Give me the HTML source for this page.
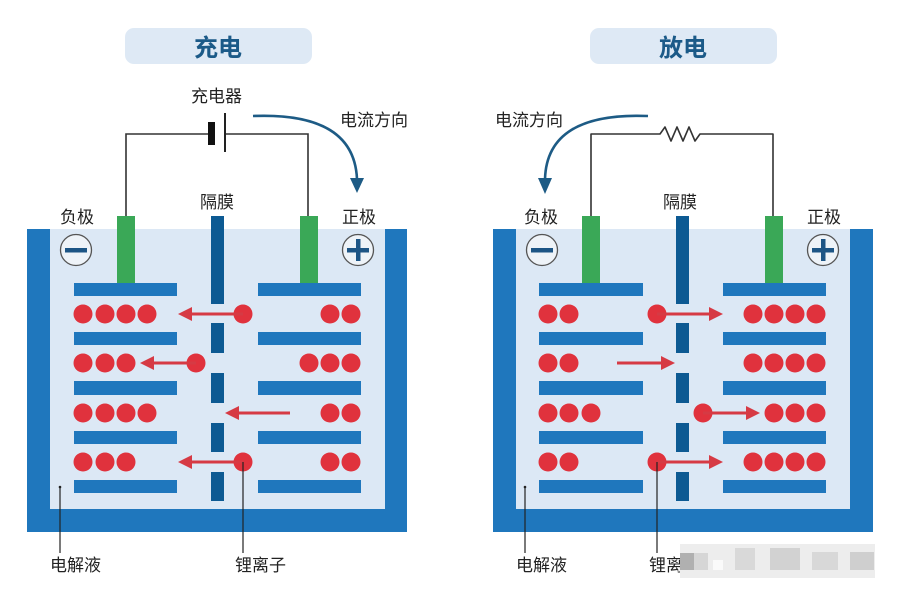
<!DOCTYPE html>
<html><head><meta charset="utf-8"><style>
html,body{margin:0;padding:0;background:#fff;}
svg{display:block;}
text{font-family:"Liberation Sans","Noto Sans CJK SC",sans-serif;fill:#222;font-size:17px;}
</style></head><body>
<svg width="900" height="599" viewBox="0 0 900 599" xmlns="http://www.w3.org/2000/svg">
<rect width="900" height="599" fill="#fff"/>
<!-- Titles -->
<rect x="125" y="28" width="187" height="36" rx="9" fill="#dee9f5"/>
<text x="218" y="56" text-anchor="middle" style="font-size:24px;font-weight:bold;fill:#1b5a88">充电</text>
<rect x="590" y="28" width="187" height="36" rx="9" fill="#dee9f5"/>
<text x="683" y="56" text-anchor="middle" style="font-size:24px;font-weight:bold;fill:#1b5a88">放电</text>

<!-- LEFT circuit -->
<text x="191" y="102">充电器</text>
<polyline points="126,216 126,134 208,134" fill="none" stroke="#333" stroke-width="1.6"/>
<polyline points="226,134 308,134 308,216" fill="none" stroke="#333" stroke-width="1.6"/>
<rect x="208" y="122" width="7" height="23" fill="#111"/>
<rect x="224" y="113" width="2" height="39" fill="#222"/>
<path d="M253,116 Q354,112 357,179" fill="none" stroke="#1d5b85" stroke-width="2.6"/>
<polygon points="350,178 364,178 357,193" fill="#1d5b85"/>
<text x="340" y="126">电流方向</text>
<text x="60" y="223">负极</text>
<text x="342" y="223">正极</text>
<text x="200" y="208">隔膜</text>

<!-- LEFT container -->
<rect x="27" y="229" width="380" height="303" fill="#1f77bd"/>
<rect x="50" y="229" width="335" height="280" fill="#dce8f5"/>
<circle cx="76" cy="250" r="15.5" fill="#eef3f8" stroke="#555" stroke-width="1.3"/>
<rect x="65" y="248" width="22" height="4.5" fill="#1d5585"/>
<circle cx="358" cy="250" r="15.5" fill="#eef3f8" stroke="#555" stroke-width="1.3"/>
<rect x="347" y="248" width="22" height="4.5" fill="#1d5585"/>
<rect x="356" y="239" width="4.5" height="22" fill="#1d5585"/>
<rect x="117" y="216" width="18" height="67" fill="#3aa857"/>
<rect x="300" y="216" width="18" height="67" fill="#3aa857"/>
<g fill="#0d5a93">
<rect x="211" y="216" width="13" height="88"/>
<rect x="211" y="323" width="13" height="30"/>
<rect x="211" y="373" width="13" height="30"/>
<rect x="211" y="423" width="13" height="29"/>
<rect x="211" y="472" width="13" height="29"/>
</g>
<g fill="#1f77bd">
<rect x="74" y="283" width="103" height="13"/>
<rect x="74" y="332" width="103" height="13"/>
<rect x="74" y="381" width="103" height="14"/>
<rect x="74" y="431" width="103" height="13"/>
<rect x="74" y="480" width="103" height="13"/>
<rect x="258" y="283" width="103" height="13"/>
<rect x="258" y="332" width="103" height="13"/>
<rect x="258" y="381" width="103" height="14"/>
<rect x="258" y="431" width="103" height="13"/>
<rect x="258" y="480" width="103" height="13"/>
</g>
<g fill="#e0323d">
<circle cx="83" cy="314" r="9.5"/><circle cx="105" cy="314" r="9.5"/><circle cx="126" cy="314" r="9.5"/><circle cx="147" cy="314" r="9.5"/>
<circle cx="330" cy="314" r="9.5"/><circle cx="351" cy="314" r="9.5"/>
<circle cx="243" cy="314" r="9.5"/>
<circle cx="83" cy="363" r="9.5"/><circle cx="105" cy="363" r="9.5"/><circle cx="126" cy="363" r="9.5"/>
<circle cx="309" cy="363" r="9.5"/><circle cx="330" cy="363" r="9.5"/><circle cx="351" cy="363" r="9.5"/>
<circle cx="196" cy="363" r="9.5"/>
<circle cx="83" cy="413" r="9.5"/><circle cx="105" cy="413" r="9.5"/><circle cx="126" cy="413" r="9.5"/><circle cx="147" cy="413" r="9.5"/>
<circle cx="330" cy="413" r="9.5"/><circle cx="351" cy="413" r="9.5"/>
<circle cx="83" cy="462" r="9.5"/><circle cx="105" cy="462" r="9.5"/><circle cx="126" cy="462" r="9.5"/>
<circle cx="330" cy="462" r="9.5"/><circle cx="351" cy="462" r="9.5"/>
<circle cx="243" cy="462" r="9.5"/>
</g>
<g fill="#d63a44" stroke="none">
<rect x="190" y="312.5" width="53" height="3"/><polygon points="178,314 192,307 192,321"/>
<rect x="152" y="361.5" width="44" height="3"/><polygon points="140,363 154,356 154,370"/>
<rect x="237" y="411.5" width="53" height="3"/><polygon points="225,413 239,406 239,420"/>
<rect x="190" y="460.5" width="53" height="3"/><polygon points="178,462 192,455 192,469"/>
</g>
<circle cx="60" cy="487" r="1.3" fill="#222"/>
<line x1="60" y1="487" x2="60" y2="553" stroke="#222" stroke-width="1.2"/>
<line x1="243" y1="462" x2="243" y2="553" stroke="#222" stroke-width="1.2"/>
<text x="50" y="571">电解液</text>
<text x="235" y="571">锂离子</text>

<!-- RIGHT circuit -->
<polyline points="591,216 591,134 660,134 665,127 671,141 677,127 683,141 689,127 695,141 700,134 773,134 773,216" fill="none" stroke="#333" stroke-width="1.6" stroke-linejoin="round"/>
<path d="M648,116 Q547,112 545,179" fill="none" stroke="#1d5b85" stroke-width="2.6"/>
<polygon points="538,178 552,178 545,194" fill="#1d5b85"/>
<text x="495" y="126">电流方向</text>
<text x="524" y="223">负极</text>
<text x="807" y="223">正极</text>
<text x="663" y="208">隔膜</text>

<!-- RIGHT container -->
<rect x="493" y="229" width="380" height="303" fill="#1f77bd"/>
<rect x="516" y="229" width="334" height="280" fill="#dce8f5"/>
<circle cx="542" cy="250" r="15.5" fill="#eef3f8" stroke="#555" stroke-width="1.3"/>
<rect x="531" y="248" width="22" height="4.5" fill="#1d5585"/>
<circle cx="823" cy="250" r="15.5" fill="#eef3f8" stroke="#555" stroke-width="1.3"/>
<rect x="812" y="248" width="22" height="4.5" fill="#1d5585"/>
<rect x="821" y="239" width="4.5" height="22" fill="#1d5585"/>
<rect x="582" y="216" width="18" height="67" fill="#3aa857"/>
<rect x="765" y="216" width="18" height="67" fill="#3aa857"/>
<g fill="#0d5a93">
<rect x="676" y="216" width="13" height="88"/>
<rect x="676" y="323" width="13" height="30"/>
<rect x="676" y="373" width="13" height="30"/>
<rect x="676" y="423" width="13" height="29"/>
<rect x="676" y="472" width="13" height="29"/>
</g>
<g fill="#1f77bd">
<rect x="539" y="283" width="104" height="13"/>
<rect x="539" y="332" width="104" height="13"/>
<rect x="539" y="381" width="104" height="14"/>
<rect x="539" y="431" width="104" height="13"/>
<rect x="539" y="480" width="104" height="13"/>
<rect x="723" y="283" width="103" height="13"/>
<rect x="723" y="332" width="103" height="13"/>
<rect x="723" y="381" width="103" height="14"/>
<rect x="723" y="431" width="103" height="13"/>
<rect x="723" y="480" width="103" height="13"/>
</g>
<g fill="#e0323d">
<circle cx="548" cy="314" r="9.5"/><circle cx="569" cy="314" r="9.5"/>
<circle cx="753" cy="314" r="9.5"/><circle cx="774" cy="314" r="9.5"/><circle cx="795" cy="314" r="9.5"/><circle cx="816" cy="314" r="9.5"/>
<circle cx="657" cy="314" r="9.5"/>
<circle cx="548" cy="363" r="9.5"/><circle cx="569" cy="363" r="9.5"/>
<circle cx="753" cy="363" r="9.5"/><circle cx="774" cy="363" r="9.5"/><circle cx="795" cy="363" r="9.5"/><circle cx="816" cy="363" r="9.5"/>
<circle cx="548" cy="413" r="9.5"/><circle cx="569" cy="413" r="9.5"/><circle cx="591" cy="413" r="9.5"/>
<circle cx="774" cy="413" r="9.5"/><circle cx="795" cy="413" r="9.5"/><circle cx="816" cy="413" r="9.5"/>
<circle cx="703" cy="413" r="9.5"/>
<circle cx="548" cy="462" r="9.5"/><circle cx="569" cy="462" r="9.5"/>
<circle cx="753" cy="462" r="9.5"/><circle cx="774" cy="462" r="9.5"/><circle cx="795" cy="462" r="9.5"/><circle cx="816" cy="462" r="9.5"/>
<circle cx="657" cy="462" r="9.5"/>
</g>
<g fill="#d63a44">
<rect x="657" y="312.5" width="54" height="3"/><polygon points="723,314 709,307 709,321"/>
<rect x="617" y="361.5" width="46" height="3"/><polygon points="675,363 661,356 661,370"/>
<rect x="703" y="411.5" width="46" height="3"/><polygon points="760,413 746,406 746,420"/>
<rect x="657" y="460.5" width="54" height="3"/><polygon points="723,462 709,455 709,469"/>
</g>
<circle cx="525" cy="487" r="1.3" fill="#222"/>
<line x1="525" y1="487" x2="525" y2="553" stroke="#222" stroke-width="1.2"/>
<line x1="657" y1="462" x2="657" y2="553" stroke="#222" stroke-width="1.2"/>
<text x="516" y="571">电解液</text>
<text x="649" y="571">锂离</text>
<!-- mosaic watermark -->
<rect x="680" y="544" width="195" height="34" fill="#ededed"/>
<rect x="680" y="553" width="14" height="17" fill="#b0b0b0"/>
<rect x="694" y="553" width="14" height="17" fill="#d6d6d6"/>
<rect x="735" y="548" width="20" height="22" fill="#d9d9d9"/>
<rect x="770" y="548" width="30" height="22" fill="#d2d2d2"/>
<rect x="812" y="552" width="26" height="18" fill="#d8d8d8"/>
<rect x="850" y="552" width="24" height="18" fill="#cfcfcf"/>
<rect x="713" y="560" width="10" height="10" fill="#fafafa"/>
</svg>
</body></html>
